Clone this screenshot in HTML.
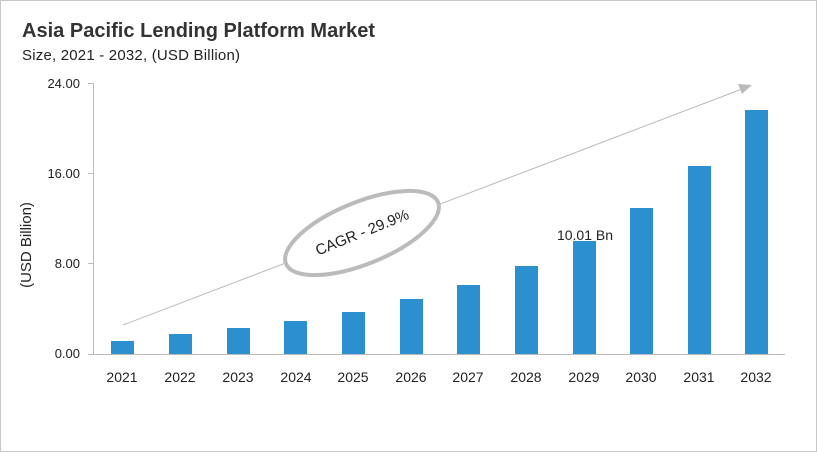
<!DOCTYPE html>
<html><head><style>
body{margin:0;background:#fff;}
svg{display:block;font-family:"Liberation Sans",sans-serif;}
</style></head><body>
<svg width="817" height="452" viewBox="0 0 817 452">
<rect x="0.5" y="0.5" width="816" height="451" fill="#fff" stroke="#c8c8c8"/>
<text x="22" y="37" font-size="20" font-weight="bold" fill="#333" textLength="353">Asia Pacific Lending Platform Market</text>
<text x="22" y="60" font-size="15" fill="#222" textLength="218">Size, 2021 - 2032, (USD Billion)</text>
<g stroke="#bbb" stroke-width="1">
<line x1="93.5" y1="83" x2="93.5" y2="354"/>
<line x1="88" y1="354.5" x2="785" y2="354.5"/>
<line x1="88" y1="83.5" x2="93" y2="83.5"/>
<line x1="88" y1="173.5" x2="93" y2="173.5"/>
<line x1="88" y1="263.5" x2="93" y2="263.5"/>
</g>
<g font-size="13" fill="#222" text-anchor="end">
<text x="80" y="88">24.00</text>
<text x="80" y="178">16.00</text>
<text x="80" y="268">8.00</text>
<text x="80" y="358">0.00</text>
</g>
<text transform="translate(31,245) rotate(-90)" font-size="15" fill="#222" text-anchor="middle">(USD Billion)</text>
<g fill="#2b8fd0">
<rect x="111" y="341" width="23" height="13"/>
<rect x="169" y="334" width="23" height="20"/>
<rect x="227" y="328" width="23" height="26"/>
<rect x="284" y="321" width="23" height="33"/>
<rect x="342" y="312" width="23" height="42"/>
<rect x="400" y="299" width="23" height="55"/>
<rect x="457" y="285" width="23" height="69"/>
<rect x="515" y="266" width="23" height="88"/>
<rect x="573" y="241" width="23" height="113"/>
<rect x="630" y="208" width="23" height="146"/>
<rect x="688" y="166" width="23" height="188"/>
<rect x="745" y="110" width="23" height="244"/>
</g>
<g font-size="14" fill="#222" text-anchor="middle">
<text x="122" y="382">2021</text><text x="180" y="382">2022</text><text x="238" y="382">2023</text>
<text x="296" y="382">2024</text><text x="353" y="382">2025</text><text x="411" y="382">2026</text>
<text x="468" y="382">2027</text><text x="526" y="382">2028</text><text x="584" y="382">2029</text>
<text x="641" y="382">2030</text><text x="699" y="382">2031</text><text x="756" y="382">2032</text>
</g>
<text x="585" y="240" font-size="14" fill="#222" text-anchor="middle">10.01 Bn</text>
<line x1="123" y1="325" x2="742" y2="89" stroke="#bbb" stroke-width="1"/>
<polygon points="752,85 738,84 742,94" fill="#bbb"/>
<ellipse cx="362" cy="233" rx="82" ry="31" transform="rotate(-22 362 233)" fill="#fff" stroke="#bbb" stroke-width="4"/>
<text transform="translate(364,237) rotate(-22)" font-size="15" fill="#222" text-anchor="middle">CAGR - 29.9%</text>
</svg>
</body></html>
